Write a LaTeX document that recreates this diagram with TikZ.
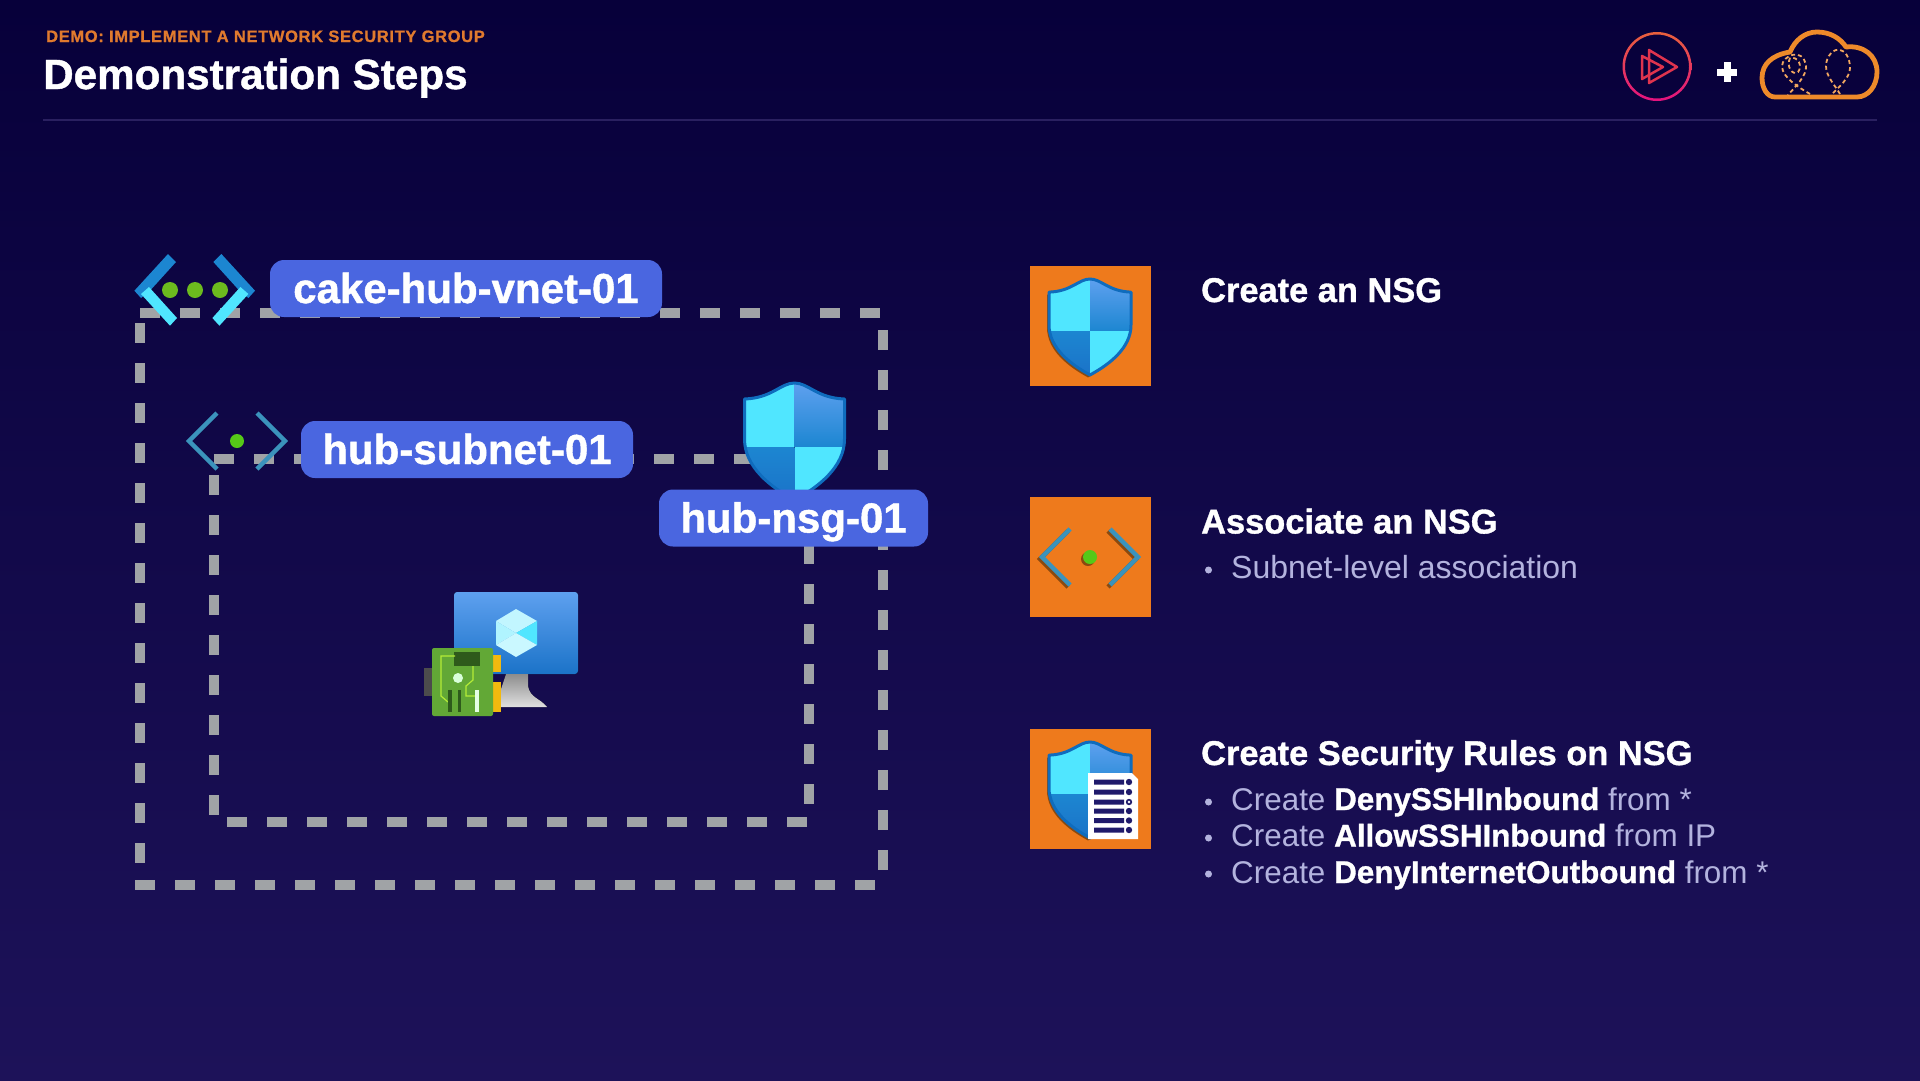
\documentclass[tikz,border=0pt]{standalone}
\usepackage{fontspec}
\setmainfont{Liberation Sans}[BoldFeatures={FakeBold=1}]
\newfontfamily\eyebrowfont[LetterSpace=4,BoldFeatures={FakeBold=1}]{Liberation Sans}
\definecolor{bgtop}{HTML}{07003A}
\definecolor{bgbottom}{HTML}{1D1259}
\definecolor{dashgrey}{HTML}{A0A3A6}
\definecolor{labelblue}{HTML}{4A66E0}
\definecolor{boxorange}{HTML}{EE7A1C}
\definecolor{iconcyan}{HTML}{50E6FF}
\definecolor{iconblue}{HTML}{1C86D1}
\definecolor{edgeblue}{HTML}{0F6CBD}
\definecolor{softblue}{HTML}{5EA0EF}
\definecolor{deepblue}{HTML}{1B73C8}
\definecolor{iconshadow}{HTML}{8A4A10}
\definecolor{steel}{HTML}{3B93BC}
\definecolor{dotgreen}{HTML}{6CBB1E}
\definecolor{lavender}{HTML}{B3B3DE}
\definecolor{eyebrow}{HTML}{E07A2E}
\definecolor{cloudorange}{HTML}{EE8A2A}
\definecolor{rulecolor}{HTML}{2A2060}
\definecolor{docnavy}{HTML}{1F1A6B}
\definecolor{ringtop}{HTML}{E8613C}
\definecolor{ringbottom}{HTML}{E3127F}
\definecolor{playred}{HTML}{E0344E}
\definecolor{nicgreen}{HTML}{62A836}
\definecolor{nicdark}{HTML}{2E5A1B}
\definecolor{nictrace}{HTML}{B4EC36}
\definecolor{nicyellow}{HTML}{F2B90F}
\newcommand{\shieldpath}{(0,0) .. controls (14,0) and (22,15) .. (50,16) -- (50,56) .. controls (50,84) and (24,104) .. (0,117) .. controls (-24,104) and (-50,84) .. (-50,56) -- (-50,16) .. controls (-22,15) and (-14,0) .. (0,0) -- cycle}
\tikzset{
    segment/.style={draw=dashgrey, line width=10pt, dash pattern=on 20pt off 20pt},
    labelbox/.style={fill=labelblue, rounded corners=14pt, text=white, font=\bfseries\fontsize{42}{48}\selectfont, inner sep=0pt, text height=29pt, text depth=0pt, minimum height=57pt},
    heading/.style={anchor=base west, inner sep=0pt, text=white, font=\bfseries\fontsize{34.4}{40}\selectfont},
    bullet/.style={anchor=base west, inner sep=0pt, text=lavender, font=\fontsize{31.4}{36}\selectfont},
    dotmark/.style={circle, fill=lavender, minimum size=7pt, inner sep=0pt},
    shieldicon/.pic={
        \begin{scope}
            \clip \shieldpath;
            \fill [iconcyan] (-50,0) rectangle (0,64);
            \fill [top color=softblue, bottom color=iconblue] (0,0) rectangle (50,64);
            \fill [top color=iconblue, bottom color=deepblue] (-50,64) rectangle (0,117);
            \fill [iconcyan] (0,64) rectangle (50,117);
        \end{scope}
        \draw [edgeblue, line width=3pt, line join=round] \shieldpath;
    },
    shieldshade/.pic={
        \fill [pic actions] \shieldpath;
    },
    subneticon/.pic={
        \draw [pic actions, line width=4.5pt] (-20,-28) -- (-48,0) -- (-20,28);
        \draw [pic actions, line width=4.5pt] (20,-28) -- (48,0) -- (20,28);
    }
}
\begin{document}
\begin{tikzpicture}[x=1pt, y=-1pt]
    % Drawing background
    \shade [top color=bgtop, bottom color=bgbottom] (0,0) rectangle (1920,1080);
    \useasboundingbox (0,0) rectangle (1920,1080);

    % Marking header
    \node (eyebrowtext) [anchor=base west, inner sep=0pt, text=eyebrow, font=\eyebrowfont\bfseries\fontsize{16.5}{20}\selectfont] at (46,42) {DEMO: IMPLEMENT A NETWORK SECURITY GROUP};
    \node (titletext) [anchor=base west, inner sep=0pt, text=white, font=\bfseries\fontsize{42.2}{50}\selectfont] at (43,89) {Demonstration Steps};
    \draw [rulecolor, line width=2.5pt] (43,120) -- (1877,120);

    % Drawing logo ring
    \shade [top color=ringtop, bottom color=ringbottom, even odd rule] (1657,66.5) circle (34.5) (1657,66.5) circle (32);
    \draw [playred, line width=2.5pt, line join=round] (1649,50) -- (1677,67) -- (1649,83) -- cycle;
    \draw [playred, line width=2.5pt, line join=round] (1642,56) -- (1663,67) -- (1642,79) -- cycle;

    % Drawing plus
    \fill [white] (1717,68.5) rectangle (1737,75.5);
    \fill [white] (1723.5,62) rectangle (1730.5,82);

    % Drawing cloud
    \draw [cloudorange, line width=4.8pt, line join=round] (1775,97) .. controls (1767,97) and (1762,88) .. (1762,78) .. controls (1762,64) and (1772,55) .. (1790,52) .. controls (1795,40) and (1805,32) .. (1817,32) .. controls (1830,32) and (1840,38) .. (1846,47) .. controls (1864,45) and (1877,56) .. (1877,72) .. controls (1877,86) and (1868,97) .. (1857,97) -- cycle;
    \draw [cloudorange!75!white, line width=1.8pt, dash pattern=on 4pt off 3pt] (1810,94) .. controls (1800,88) and (1782,78) .. (1782,66) .. controls (1782,56) and (1803,46) .. (1806,66) .. controls (1807,76) and (1794,88) .. (1788,95);
    \draw [cloudorange!75!white, line width=1.8pt, dash pattern=on 4pt off 3pt] (1790,58) .. controls (1786,66) and (1792,76) .. (1798,72) .. controls (1803,66) and (1798,56) .. (1790,58);
    \draw [cloudorange!75!white, line width=1.8pt, dash pattern=on 4pt off 3pt] (1840,94) .. controls (1834,84) and (1826,76) .. (1826,66) .. controls (1826,56) and (1834,48) .. (1840,50) .. controls (1848,52) and (1850,62) .. (1850,68) .. controls (1850,78) and (1838,88) .. (1832,94);

    % Drawing segments of vnet boundary
    \draw [segment] (140,313) -- (880,313);
    \draw [segment] (140,323) -- (140,880);
    \draw [segment] (135,885) -- (878,885);
    \draw [segment] (883,330) -- (883,870);

    % Drawing segments of subnet boundary
    \draw [segment] (214,458.5) -- (810,458.5);
    \draw [segment] (214,475) -- (214,815);
    \draw [segment] (227,822) -- (807,822);
    \draw [segment] (809,544) -- (809,804);

    % Drawing vnet icon
    \fill [iconblue] (134.4,290.7) -- (168,254) -- (176,262) -- (150,290.7) -- (141,298) -- cycle;
    \fill [iconblue] (255,290.7) -- (221.4,254) -- (213.4,262) -- (239.4,290.7) -- (248.4,298) -- cycle;
    \fill [iconcyan] (141,294) -- (149,287) -- (177,318) -- (170,325.7) -- cycle;
    \fill [iconcyan] (248.4,294) -- (240.4,287) -- (212.4,318) -- (219.4,325.7) -- cycle;
    \fill [dotgreen] (170,290) circle (8);
    \fill [dotgreen] (195,290) circle (8);
    \fill [dotgreen] (220,290) circle (8);

    % Drawing subnet icon
    \pic [steel] at (237,441) {subneticon};
    \fill [dotgreen!80!green] (237,441) circle (7);

    % Marking labels
    \node (vnetlabel) [labelbox, minimum width=392pt] at (466,288.5) {cake-hub-vnet-01};
    \node (subnetlabel) [labelbox, minimum width=332pt] at (467,449.5) {hub-subnet-01};

    % Drawing nsg shield
    \pic at (794.5,383) {shieldicon};
    \node (nsglabel) [labelbox, minimum width=269pt] at (793.5,518) {hub-nsg-01};

    % Drawing vm monitor
    \fill [top color=softblue, bottom color=deepblue, rounded corners=3pt] (454,592) rectangle (578,674);
    \fill [top color=black!45, bottom color=black!12] (506,674) -- (528,674) -- (528,686) .. controls (530,698) and (540,698) .. (547,707) -- (495,707) -- cycle;
    \fill [iconcyan!35!white] (516,609) -- (537,621) -- (516,633) -- (496,621) -- cycle;
    \fill [iconcyan] (537,621) -- (537,645) -- (516,633) -- cycle;
    \fill [iconcyan!45!white] (496,621) -- (516,633) -- (496,645) -- cycle;
    \fill [iconcyan!30!white] (516,633) -- (537,645) -- (516,657) -- (496,645) -- cycle;

    % Drawing network card
    \fill [black!70] (424,668) rectangle (432,696);
    \fill [nicyellow] (493,655) rectangle (501,672);
    \fill [nicyellow] (493,682) rectangle (501,712);
    \fill [nicgreen, rounded corners=2pt] (432,648) rectangle (493,716);
    \fill [nicdark] (454,652) rectangle (480,666);
    \draw [nictrace, line width=1.2pt] (455,656) -- (441,656) -- (441,696) -- (448,702);
    \draw [nictrace, line width=1.2pt] (473,666) -- (473,680) -- (466,686) -- (466,696) -- (475,696);
    \fill [white!85!green] (458,678) circle (5);
    \fill [nicdark] (448,690) rectangle (452,712);
    \fill [nicdark] (458,690) rectangle (461,712);
    \fill [white!90!green] (475,690) rectangle (479,712);

    % Drawing step boxes
    \fill [boxorange] (1030,266) rectangle (1151,386);
    \fill [boxorange] (1030,497) rectangle (1151,617);
    \fill [boxorange] (1030,729) rectangle (1151,849);

    % Drawing icon of first step
    \pic [iconshadow, scale=.82] at (1088,281.5) {shieldshade};
    \pic [scale=.82] at (1090,279) {shieldicon};

    % Drawing icon of second step
    \pic [iconshadow] at (1088,559) {subneticon};
    \fill [iconshadow] (1088,559) circle (7);
    \pic [steel] at (1090,557) {subneticon};
    \fill [dotgreen!80!green] (1090,557) circle (7);

    % Drawing icon of third step
    \pic [iconshadow, scale=.82] at (1088,744.5) {shieldshade};
    \pic [scale=.82] at (1090,742) {shieldicon};
    \fill [white] (1088,773) -- (1132,773) -- (1138,779) -- (1138,839) -- (1088,839) -- cycle;
    \fill [docnavy] (1094,779.5) rectangle (1124,784.5) (1129,782) circle (3.2);
    \fill [docnavy] (1094,789.5) rectangle (1124,794.5) (1129,792) circle (3.2);
    \fill [docnavy] (1094,799.5) rectangle (1124,804.5) (1129,802) circle (3.2);
    \fill [white] (1129,802) circle (1.4);
    \fill [docnavy] (1094,808.5) rectangle (1124,813.5) (1129,811) circle (3.2);
    \fill [docnavy] (1094,818) rectangle (1124,823) (1129,820.5) circle (3.2);
    \fill [docnavy] (1094,827.5) rectangle (1124,832.5) (1129,830) circle (3.2);

    % Marking steps
    \node (stepone) [heading] at (1201,302) {Create an NSG};
    \node (steptwo) [heading] at (1201,533.5) {Associate an NSG};
    \node (subnetdot) [dotmark] at (1208.5,570) {};
    \node (subnetitem) [bullet, font=\fontsize{32}{36}\selectfont] at (1231,578) {Subnet-level association};
    \node (stepthree) [heading] at (1201,765) {Create Security Rules on NSG};
    \node (denydot) [dotmark] at (1208.5,802) {};
    \node (denyitem) [bullet] at (1231,810) {Create \textcolor{white}{\bfseries DenySSHInbound} from *};
    \node (allowdot) [dotmark] at (1208.5,838) {};
    \node (allowitem) [bullet] at (1231,846.5) {Create \textcolor{white}{\bfseries AllowSSHInbound} from IP};
    \node (internetdot) [dotmark] at (1208.5,874) {};
    \node (internetitem) [bullet] at (1231,883) {Create \textcolor{white}{\bfseries DenyInternetOutbound} from *};
\end{tikzpicture}
\end{document}
